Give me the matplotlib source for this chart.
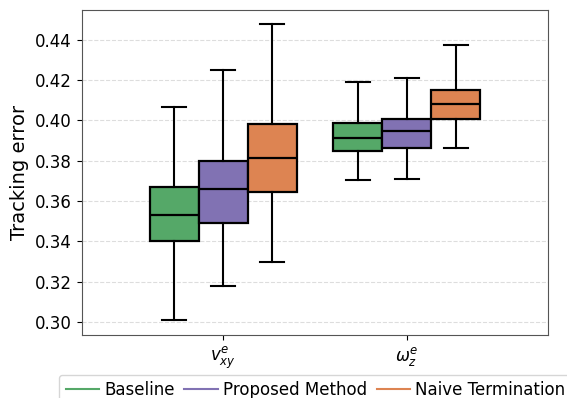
import matplotlib
matplotlib.use("Agg")
import matplotlib.pyplot as plt
from matplotlib.lines import Line2D

groups = [r"$v^e_{xy}$", r"$\omega^e_z$"]
methods = ["Baseline", "Proposed Method", "Naive Termination"]
colors = ["#55A868", "#8172B3", "#DD8452"]

# per method, per group: (whislo, q1, med, q3, whishi)
baseline = [(0.3011, 0.3400, 0.3529, 0.3670, 0.4067),
            (0.3704, 0.3849, 0.3915, 0.3988, 0.4188)]
proposed = [(0.3180, 0.3492, 0.3659, 0.3801, 0.4249),
            (0.3707, 0.3862, 0.3945, 0.4006, 0.4209)]
naive = [(0.3296, 0.3646, 0.3813, 0.3983, 0.4475),
         (0.3861, 0.4006, 0.4079, 0.4151, 0.4371)]
series = [baseline, proposed, naive]
yticks = [0.30, 0.32, 0.34, 0.36, 0.38, 0.40, 0.42, 0.44]

fig = plt.figure(figsize=(5.67, 3.98), dpi=100)
ax = fig.add_axes([0.144, 0.158, 0.823, 0.818])

w = 0.8 / 3
for j, (vals, col) in enumerate(zip(series, colors)):
    stats = []
    pos = []
    for i, v in enumerate(vals):
        lo, q1, med, q3, hi = v
        stats.append(dict(whislo=lo, q1=q1, med=med, q3=q3, whishi=hi, fliers=[]))
        pos.append(i + (j - 1) * w)
    ax.bxp(stats, positions=pos, widths=w, showfliers=False, patch_artist=True,
           capwidths=w * 0.5, manage_ticks=False,
           boxprops=dict(facecolor=col, edgecolor="black", linewidth=1.6),
           medianprops=dict(color="black", linewidth=1.6),
           whiskerprops=dict(color="black", linewidth=1.5),
           capprops=dict(color="black", linewidth=1.5), zorder=3)

ax.set_xlim(-0.77, 1.77)
ax.set_ylim(0.2936, 0.4549)
ax.set_xticks([0, 1])
ax.set_xticklabels(groups, fontsize=12)
ax.set_yticks(yticks)
ax.set_yticklabels([f"{t:.2f}" for t in yticks])
ax.tick_params(axis="y", labelsize=12)
ax.set_ylabel("Tracking error", fontsize=14)
ax.yaxis.grid(True, linestyle="--", color="#dddddd", linewidth=0.8, zorder=0)
ax.set_axisbelow(True)
for s in ax.spines.values():
    s.set_color("#555555")

handles = [Line2D([0], [0], color=c, linewidth=1.5) for c in colors]
fig.legend(handles, methods, loc="upper left", bbox_to_anchor=(0.104, 0.059),
           ncol=3, fontsize=12, frameon=True, handlelength=2.0, columnspacing=0.6,
           handletextpad=0.3, borderaxespad=0)

fig.savefig("out.png", dpi=100)
